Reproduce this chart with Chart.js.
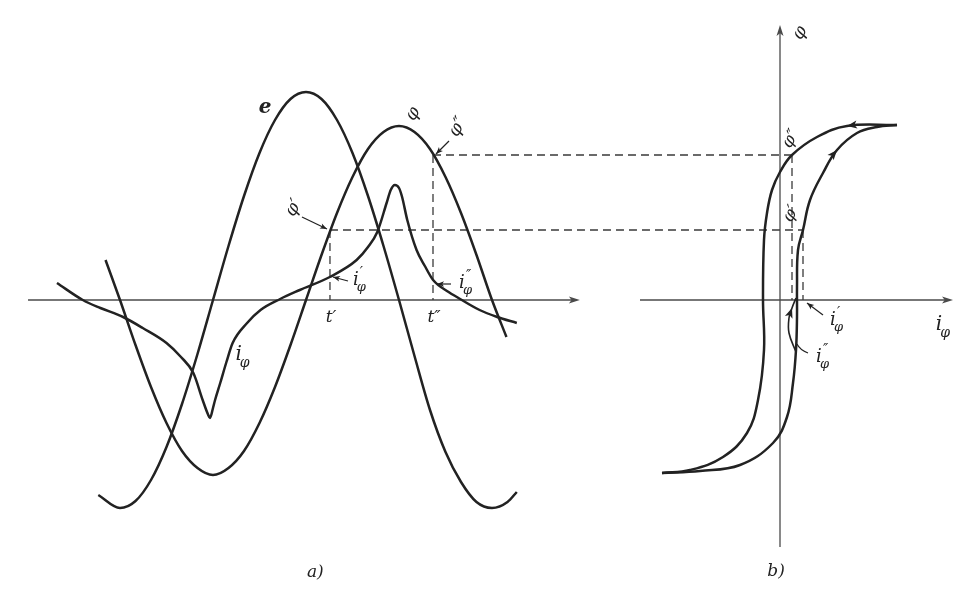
<!DOCTYPE html>
<html><head><meta charset="utf-8">
<script src="https://cdn.jsdelivr.net/npm/chart.js@4.4.1/dist/chart.umd.min.js"></script>
<style>html,body{margin:0;padding:0;background:#ffffff;}#wrap{position:relative;width:965px;height:595px;}canvas{display:block;}</style>
</head><body><div id="wrap"><canvas id="c" width="965" height="595"></canvas></div>
<script>
// ---------- a) time curves: t in electrical degrees, values in figure units ----------
const eT   = [-111,-90,-75,-60,-45,-30,-15,0,15,30,45,60,75,90,105,120,135,150,165,180,195,210,225,240,255,270,285,294];
const eV   = [-19.5,-20.8,-20.1,-18.0,-14.7,-10.4,-5.4,0,5.4,10.4,14.7,18.0,20.1,20.8,20.1,18.0,14.7,10.4,5.4,0,-5.6,-11.0,-15.2,-18.2,-20.2,-20.8,-20.2,-19.2];
const phiT = [-104,-90,-75,-60,-45,-30,-15,0,15,30,45,60,75,90,105,120,135,150,165,180,195,210,225,240,255,270,284];
const phiV = [4.0,0,-4.5,-8.7,-12.3,-15.1,-16.8,-17.5,-16.8,-15.1,-12.3,-8.7,-4.5,0,4.5,8.7,12.3,15.1,16.8,17.4,16.8,15.1,12.3,8.7,4.5,0,-3.7];
const iT   = [-151,-126,-109,-87,-68,-45,-31,-19,-10,-5,-2.9,0,2,7,13,19,33,46,65,84,113,139,150,159,168,172,176,180,183,188,197,205,213,228,236,258,275,294];
const iV   = [1.7,0,-0.8,-1.7,-2.8,-4.3,-5.7,-7.3,-10.0,-11.4,-11.8,-10.8,-10.0,-8.3,-6.2,-4.3,-2.3,-1.0,0.1,1.0,2.3,4.0,5.3,6.8,9.7,11.0,11.5,11.2,10.3,8.0,5.0,3.4,2.0,0.8,0.3,-1.0,-1.7,-2.3];
// ---------- b) hysteresis loop: i_phi vs phi ----------
const downI   = [11.7,6.7,3.7,1.2,0,-0.8,-1.3,-1.6,-1.7,-1.6,-2.2,-3.3,-5.7,-9.0,-11.8];
const downPhi = [17.5,17.4,16.3,14.5,12.8,11.0,8.7,6.0,0,-5.0,-10.0,-13.3,-15.7,-17.0,-17.3];
const upI     = [-11.8,-8.0,-4.0,-0.7,0.7,1.3,1.6,1.7,1.7,1.8,2.3,3.0,4.3,5.7,7.7,9.7,11.7];
const upPhi   = [-17.3,-17.1,-16.5,-14.3,-11.7,-8.3,-5.0,-1.7,1.3,5.0,7.0,10.0,12.7,15.0,16.7,17.3,17.5];
const minorI   = [1.6,0.9,0.9,1.2,1.6];
const minorPhi = [-5.2,-3.3,-1.8,-0.8,0.2];
// ---------- marked instants t', t'' ----------
const markT   = [113.2, 212.9];   // t', t''
const markPhi = [7.0, 14.5];      // phi', phi''
const markIa  = [2.3, 2.0];       // i'_phi, i''_phi on the time curve
const markIb  = [2.3, 1.2];       // abscissa on the loop where phi', phi'' are met
// axis extents
const axisT = [-179, 355];
const axisBI = [-14, 17.3];
const axisBPhi = [-24.7, 27.5];

const INK = '#222222', AXIS = '#4a4a4a';
const FONT = '"DejaVu Serif", "Liberation Serif", serif';
const pts = (xs, ys) => xs.map((x, k) => ({x, y: ys[k]}));

function seg(ctx, x1, y1, x2, y2){ctx.beginPath();ctx.moveTo(x1,y1);ctx.lineTo(x2,y2);ctx.stroke();}
function head(ctx, x, y, ang, len, w){
  ctx.save();ctx.translate(x,y);ctx.rotate(ang);
  ctx.beginPath();ctx.moveTo(0,0);ctx.lineTo(-len,-w);ctx.lineTo(-len*0.75,0);ctx.lineTo(-len,w);ctx.closePath();ctx.fill();
  ctx.restore();
}
function lab(ctx, x, y, main, sup, sub, rot, size, bold){
  ctx.save();ctx.translate(x,y);if(rot)ctx.rotate(rot);
  ctx.fillStyle = INK;ctx.textBaseline='middle';ctx.textAlign='left';
  ctx.font = 'italic ' + (bold?'bold ':'') + size + 'px ' + FONT;
  const w = ctx.measureText(main).width;
  let x0 = -w/2;
  ctx.fillText(main, x0, 0);
  if(sup){ctx.font = 'italic ' + Math.round(size*0.75) + 'px ' + FONT; ctx.fillText(sup, x0 + w + 1, -size*0.38);}
  if(sub){ctx.font = 'italic ' + Math.round(size*0.72) + 'px ' + FONT; ctx.fillText(sub, x0 + w - 2, size*0.42);}
  ctx.restore();
}
function pointer(ctx, x1, y1, x2, y2){
  ctx.save();ctx.strokeStyle=INK;ctx.fillStyle=INK;ctx.lineWidth=1.2;
  seg(ctx,x1,y1,x2,y2);head(ctx,x2,y2,Math.atan2(y2-y1,x2-x1),7,2.8);ctx.restore();
}

const figPlugin = {
  id: 'fig',
  beforeDatasetsDraw(chart){
    const {ctx} = chart; const xa = chart.scales.xa, xb = chart.scales.xb, y = chart.scales.y;
    const y0 = y.getPixelForValue(0);
    ctx.save();
    ctx.strokeStyle = AXIS; ctx.fillStyle = AXIS; ctx.lineWidth = 1.5;
    const a1 = xa.getPixelForValue(axisT[0]), a2 = xa.getPixelForValue(axisT[1]);
    seg(ctx, a1, y0, a2 - 4, y0); head(ctx, a2, y0, 0, 11, 3.5);
    const b1 = xb.getPixelForValue(axisBI[0]), b2 = xb.getPixelForValue(axisBI[1]);
    seg(ctx, b1, y0, b2 - 4, y0); head(ctx, b2, y0, 0, 11, 3.5);
    const bx = xb.getPixelForValue(0);
    const v1 = y.getPixelForValue(axisBPhi[0]), v2 = y.getPixelForValue(axisBPhi[1]);
    ctx.lineWidth = 1.3;
    seg(ctx, bx, v1, bx, v2 + 4); head(ctx, bx, v2, -Math.PI/2, 11, 3.5);
    ctx.strokeStyle = '#3a3a3a'; ctx.lineWidth = 1.3; ctx.setLineDash([8,5]);
    markT.forEach((t, k) => {
      const px = xa.getPixelForValue(t), py = y.getPixelForValue(markPhi[k]);
      const qx = xb.getPixelForValue(markIb[k]);
      seg(ctx, px, py, qx, py);
      seg(ctx, px, py, px, y0);
      seg(ctx, qx, py, qx, y0);
    });
    ctx.restore();
  },
  afterDatasetsDraw(chart){
    const {ctx} = chart; const xa = chart.scales.xa, xb = chart.scales.xb, y = chart.scales.y;
    ctx.save(); ctx.fillStyle = INK;
    const arrowOn = (dsIndex, k) => {
      const m = chart.getDatasetMeta(dsIndex).data;
      const p0 = m[k-1], p1 = m[k], p2 = m[k+1];
      head(ctx, p1.x, p1.y, Math.atan2(p2.y - p0.y, p2.x - p0.x), 10, 4);
    };
    arrowOn(3, 1); arrowOn(4, 13); arrowOn(5, 3);
    ctx.restore();

    const y0 = y.getPixelForValue(0);
    const R = -Math.PI/3;
    const ePk = chart.getDatasetMeta(0).data[13];
    lab(ctx, ePk.x - 41, ePk.y + 16, 'e', '', '', 0, 20, true);
    const pPk = chart.getDatasetMeta(1).data[19];
    lab(ctx, pPk.x + 14, pPk.y - 12, 'φ', '', '', R, 18);
    const p1x = xa.getPixelForValue(markT[0]), p1y = y.getPixelForValue(markPhi[0]);
    const p2x = xa.getPixelForValue(markT[1]), p2y = y.getPixelForValue(markPhi[1]);
    lab(ctx, p1x - 36, p1y - 22, 'φ′', '', '', R, 18);
    pointer(ctx, p1x - 28, p1y - 13, p1x - 3, p1y - 1);
    lab(ctx, p2x + 25, p2y - 28, 'φ″', '', '', R, 18);
    pointer(ctx, p2x + 16, p2y - 14, p2x + 3, p2y - 1);
    const i1y = y.getPixelForValue(markIa[0]), i2y = y.getPixelForValue(markIa[1]);
    lab(ctx, p1x + 26, i1y + 3, 'i', '′', 'φ', 0, 18);
    pointer(ctx, p1x + 18, i1y + 4, p1x + 3, i1y);
    lab(ctx, p2x + 29, i2y + 3, 'i', '″', 'φ', 0, 18);
    pointer(ctx, p2x + 18, i2y + 4, p2x + 4, i2y + 4);
    lab(ctx, p1x + 1, y0 + 18, 't′', '', '', 0, 17);
    lab(ctx, p2x + 1, y0 + 18, 't″', '', '', 0, 17);
    const iRef = chart.getDatasetMeta(2).data[15];
    lab(ctx, iRef.x + 6, iRef.y + 12, 'i', '', 'φ', 0, 20);
    lab(ctx, xa.getPixelForValue(99), y.getPixelForValue(-27.3), 'a)', '', '', 0, 17);
    const bx = xb.getPixelForValue(0);
    lab(ctx, bx - 4, y.getPixelForValue(-27.2), 'b)', '', '', 0, 17);
    lab(ctx, bx + 20, y.getPixelForValue(axisBPhi[1]) + 8, 'φ', '', '', R, 18);
    lab(ctx, xb.getPixelForValue(axisBI[1]) - 14, y0 + 25, 'i', '', 'φ', 0, 20);
    const q1x = xb.getPixelForValue(markIb[0]), q1y = y.getPixelForValue(markPhi[0]);
    const q2x = xb.getPixelForValue(markIb[1]), q2y = y.getPixelForValue(markPhi[1]);
    lab(ctx, q2x - 1, q2y - 16, 'φ″', '', '', R, 17);
    lab(ctx, q1x - 12, q1y - 16, 'φ′', '', '', R, 17);
    lab(ctx, q1x + 30, y0 + 20, 'i', '′', 'φ', 0, 18);
    pointer(ctx, q1x + 20, y0 + 15, q1x + 4, y0 + 3);
    const mn = chart.getDatasetMeta(5).data[0];
    lab(ctx, mn.x + 23, mn.y + 5, 'i', '″', 'φ', 0, 18);
    ctx.save(); ctx.strokeStyle = INK; ctx.lineWidth = 1.2;
    ctx.beginPath(); ctx.moveTo(mn.x + 12, mn.y + 1); ctx.quadraticCurveTo(mn.x + 4, mn.y - 2, mn.x + 1, mn.y - 8); ctx.stroke();
    ctx.restore();
  }
};

const lineDs = (data, axis, mono) => Object.assign({data, xAxisID: axis, yAxisID: 'y', showLine: true, borderColor: INK, borderWidth: 2.5, pointRadius: 0, pointHoverRadius: 0, tension: 0.4, fill: false}, mono ? {cubicInterpolationMode: 'monotone'} : {});

new Chart(document.getElementById('c').getContext('2d'), {
  type: 'scatter',
  data: {datasets: [
    lineDs(pts(eT, eV), 'xa', true),
    lineDs(pts(phiT, phiV), 'xa', true),
    lineDs(pts(iT, iV), 'xa', true),
    lineDs(pts(downI, downPhi), 'xb'),
    lineDs(pts(upI, upPhi), 'xb'),
    Object.assign(lineDs(pts(minorI, minorPhi), 'xb'), {borderWidth: 1.6})
  ]},
  options: {
    responsive: false, animation: false, events: [],
    layout: {padding: 0},
    plugins: {legend: {display: false}, tooltip: {enabled: false}, title: {display: false}},
    scales: {
      xa: {type: 'linear', axis: 'x', min: -206.13, max: 727.74, display: false},
      xb: {type: 'linear', axis: 'x', min: -78, max: 18.5, display: false},
      y:  {type: 'linear', axis: 'y', min: -29.5, max: 30, display: false}
    }
  },
  plugins: [figPlugin]
});
</script></body></html>
